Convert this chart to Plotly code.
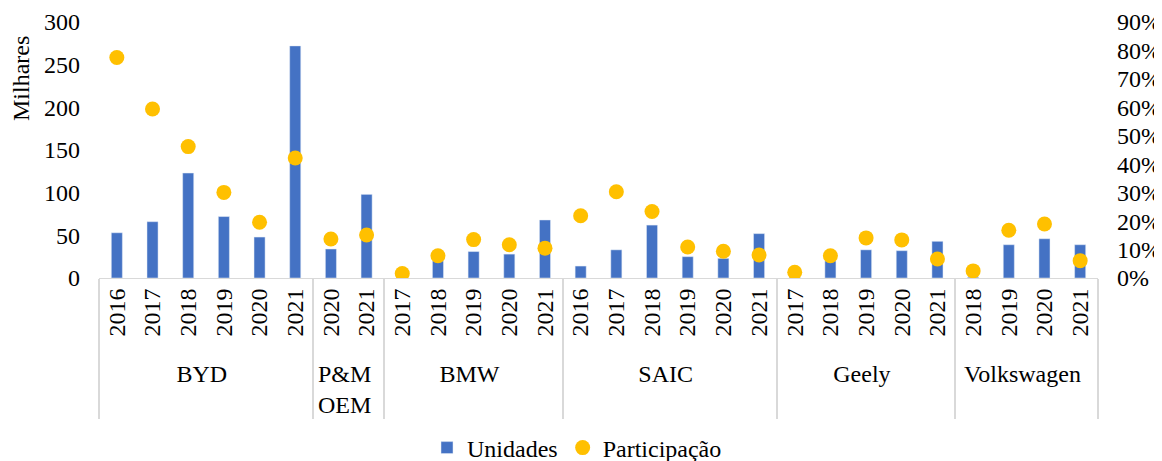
import plotly.graph_objects as go

groups = ["BYD"] * 6 + ["P&M<br>OEM"] * 2 + ["BMW"] * 5 + ["SAIC"] * 6 + ["Geely"] * 5 + ["Volkswagen"] * 4
years = ["2016", "2017", "2018", "2019", "2020", "2021",
         "2020", "2021",
         "2017", "2018", "2019", "2020", "2021",
         "2016", "2017", "2018", "2019", "2020", "2021",
         "2017", "2018", "2019", "2020", "2021",
         "2018", "2019", "2020", "2021"]
unidades = [53, 66, 123, 72, 48, 272,
            34, 98,
            1, 20, 31, 28, 68,
            14, 33, 62, 25, 23, 52,
            1, 20, 33, 32, 43,
            1, 39, 46, 39]
participacao = [0.775, 0.594, 0.462, 0.301, 0.196, 0.422,
                0.137, 0.151,
                0.016, 0.078, 0.135, 0.117, 0.105,
                0.219, 0.303, 0.234, 0.109, 0.094, 0.081,
                0.020, 0.078, 0.141, 0.134, 0.067,
                0.025, 0.168, 0.190, 0.061]

FONT = "Liberation Serif, Times New Roman, serif"
FS = 24

fig = go.Figure()
fig.add_trace(go.Bar(x=[groups, years], y=unidades, name="Unidades",
                     marker=dict(color="#4472C4"), yaxis="y"))
fig.add_trace(go.Scatter(x=[groups, years], y=participacao, name="Participação",
                         mode="markers", marker=dict(color="#FFC000", size=15),
                         yaxis="y2"))

# page has an 8px body margin, so the figure is offset by 8px
L, R, T, B = 91, 64, 14, 183
W, H = 1154, 453
PW, PH = W - L - R, H - T - B
fig.update_layout(
    width=W, height=H,
    margin=dict(l=L, r=R, t=T, b=B, autoexpand=False),
    paper_bgcolor="white", plot_bgcolor="white",
    font=dict(family=FONT, size=FS, color="black"),
    bargap=0.69,
    showlegend=True,
    legend=dict(orientation="h", x=(577 - 99) / PW, xanchor="center",
                y=(278 - 448) / PH, yanchor="middle",
                font=dict(size=FS), itemwidth=30, tracegroupgap=0),
    xaxis=dict(type="multicategory", tickangle=-90, showline=True, linecolor="#d9d9d9",
               linewidth=1, showgrid=False, ticks="", showdividers=True,
               dividercolor="#d9d9d9", dividerwidth=2, automargin=False,
               range=[-0.5, len(years) - 0.5], tickfont=dict(size=FS)),
    yaxis=dict(range=[0, 300], dtick=50, showgrid=False, zeroline=False, showline=False,
               ticks="", ticklabelstandoff=18, automargin=False, tickfont=dict(size=FS)),
    yaxis2=dict(range=[0, 0.9], dtick=0.1, tickformat=".0%", overlaying="y", side="right",
                showgrid=False, zeroline=False, showline=False, ticks="", automargin=False,
                ticklabelstandoff=18, tickfont=dict(size=FS)),
    annotations=[dict(text="Milhares", textangle=-90, xref="paper", yref="paper",
                      x=(21 - 99) / PW, y=(278 - 79) / PH, showarrow=False,
                      xanchor="center", yanchor="middle", font=dict(size=FS))],
)

fig.write_html("out.html")
